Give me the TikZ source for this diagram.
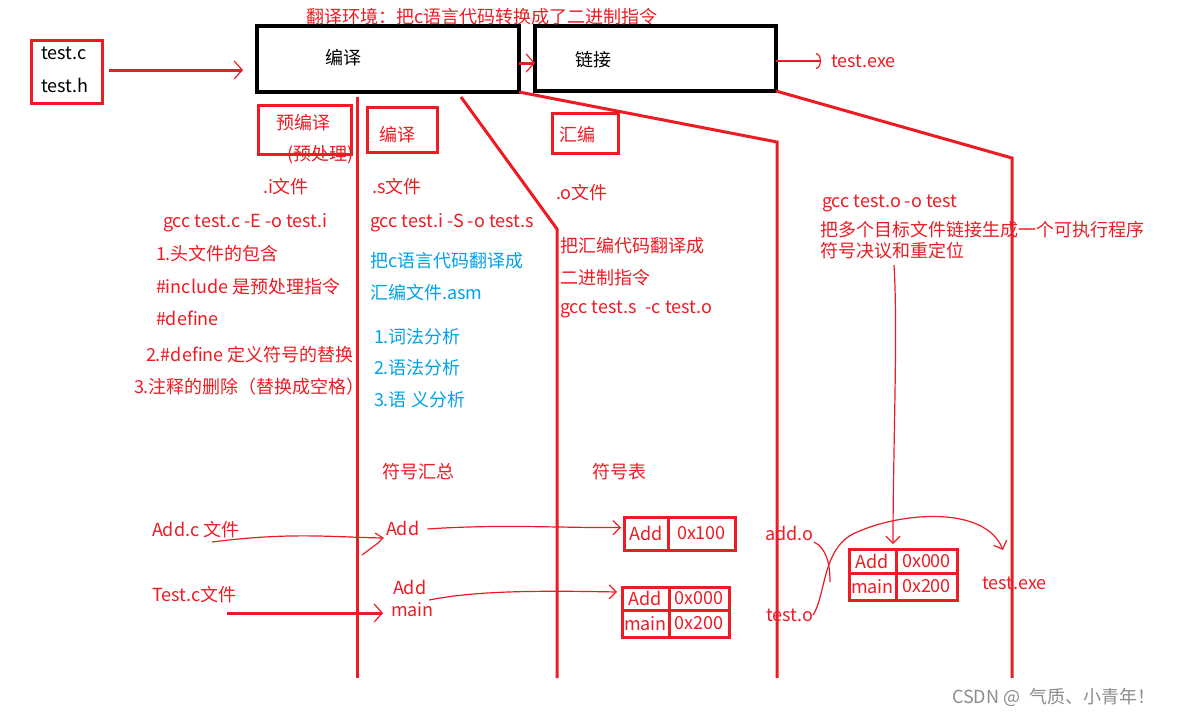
\documentclass[tikz,border=0pt]{standalone}
\usepackage{fontspec}
\setmainfont{Noto Sans CJK SC}
\usetikzlibrary{arrows.meta,calc}
\definecolor{pred}{HTML}{ED1C24}
\definecolor{pblue}{HTML}{00A2E8}
\definecolor{wm}{HTML}{8C8C8C}
\tikzset{
  lbl/.style={anchor=west,inner sep=0pt,outer sep=0pt,text=pred,font=\fontsize{18}{21}\selectfont},
  blbl/.style={lbl,text=pblue},
  klbl/.style={lbl,text=black},
  kbox/.style={draw=black,line width=3.5pt,inner sep=0pt,outer sep=0pt},
  rbox/.style={draw=pred,line width=3pt,inner sep=0pt,outer sep=0pt},
  cell/.style={draw=pred,line width=3pt,inner sep=0pt,outer sep=0pt,anchor=north west,text=pred,font=\fontsize{18}{21}\selectfont},
  stageline/.style={draw=pred,line width=3pt,line join=miter},
  thinline/.style={draw=pred,line width=1.2pt},
  thinarr/.style={thinline,-{Straight Barb[length=7pt,width=14pt]}},
  thickarr/.style={draw=pred,line width=3pt,-{Straight Barb[length=8pt,width=18pt,line width=1.2pt]}},
}
\begin{document}
\begin{tikzpicture}[x=1pt,y=-1pt]
\useasboundingbox[fill=white] (0,0) rectangle (1178,716);

% ---- top row
\node[rbox,minimum width=71pt,minimum height=63pt] (src) at (66.5,71.5) {};
\node[klbl] (tc) at (41,53) {test.c};
\node[klbl] (th) at (41,85) {test.h};
\node[kbox,minimum width=262pt,minimum height=66pt] (comp) at (388,59) {};
\node[klbl] (compt) at (325,58) {编译};
\node[kbox,minimum width=241pt,minimum height=65pt] (link) at (655.5,58.5) {};
\node[klbl] (linkt) at (575,60) {链接};
\node[lbl] (exe) at (831,61) {test.exe};
\node[lbl] (title) at (306,17) {翻译环境：把c语言代码转换成了二进制指令};

\draw[thickarr] ($(src.east)+(7,-1.5)$) -- ($(src.east -| comp.west)+(-14,-1.5)$);
\draw[thickarr] ($(comp.east)+(0,4)$) -- ($(link.west)+(0,4.5)$);
\draw[thinline,-{Arc Barb[length=5pt,width=16pt]}] ($(link.east)+(0,2.5)$) -- ($(exe.west)+(-10,0)$);

% ---- stage separators
\coordinate (s1a) at (357,97);  \coordinate (s1b) at (357,678);
\coordinate (s2a) at (461,97);  \coordinate (s2k) at (557,229); \coordinate (s2b) at (557,678);
\coordinate (s3k) at (777,142); \coordinate (s3b) at (777,678);
\coordinate (s4k) at (1012,158); \coordinate (s4b) at (1012,678);
\draw[stageline] (s1a) -- (s1b);
\draw[stageline] (s2a) -- (s2k) -- (s2b);
\draw[stageline] (comp.south east) -- (s3k) -- (s3b);
\draw[stageline] (link.south east) -- (s4k) -- (s4b);

% ---- stage boxes
\node[rbox,minimum width=93pt,minimum height=49pt] (pre) at (304.5,129.5) {};
\node[lbl] (pret) at (276,123) {预编译};
\node[lbl] (pret2) at (287,155) {(预处理)};
\node[rbox,minimum width=70pt,minimum height=45pt] (cmp2) at (402,129.5) {};
\node[lbl] (cmp2t) at (379,135) {编译};
\node[rbox,minimum width=66pt,minimum height=40pt] (asm) at (585,133) {};
\node[lbl] (asmt) at (559,135) {汇编};

% ---- column 1
\node[lbl] (ifile) at (263,187) {.i文件};
\node[lbl] (gcc1) at (163,223) {gcc test.c -E -o test.i};
\node[lbl] (c1a) at (156,254) {1.头文件的包含};
\node[lbl] (c1b) at (156,287) {\#include 是预处理指令};
\node[lbl] (c1c) at (156,318) {\#define};
\node[lbl] (c1d) at (146,355) {2.\#define 定义符号的替换};
\node[lbl] (c1e) at (134,387) {3.注释的删除（替换成空格）};

% ---- column 2
\node[lbl] (sfile) at (372,187) {.s文件};
\node[lbl] (gcc2) at (370,223) {gcc test.i -S -o test.s};
\node[blbl] (c2a) at (370,261) {把c语言代码翻译成};
\node[blbl] (c2b) at (370,293) {汇编文件.asm};
\node[blbl] (c2c) at (374,337) {1.词法分析};
\node[blbl] (c2d) at (374,368) {2.语法分析};
\node[blbl] (c2e) at (374,400) {3.语 义分析};

% ---- column 3
\node[lbl] (ofile) at (556,193) {.o文件};
\node[lbl] (c3a) at (560,246) {把汇编代码翻译成};
\node[lbl] (c3b) at (560,278) {二进制指令};
\node[lbl] (gcc3) at (560,309) {gcc test.s\hspace{5pt} -c test.o};

% ---- column 4
\node[lbl] (gcc4) at (822,203) {gcc test.o -o test};
\node[lbl] (c4a) at (820,230) {把多个目标文件链接生成一个可执行程序};
\node[lbl] (rule) at (820,251) {符号决议和重定位};

% ---- bottom
\node[lbl] (sumt) at (382,472) {符号汇总};
\node[lbl] (tabt) at (592,472) {符号表};
\node[lbl] (addc) at (152,530) {Add.c 文件};
\node[lbl] (sym1) at (386,528) {Add};
\node[lbl] (testc) at (152,595) {Test.c文件};
\node[lbl] (sym2) at (393,587) {Add};
\node[lbl] (sym3) at (391,610) {main};

\node[cell,minimum width=44pt,minimum height=33pt] (t1a) at (624,517) {Add};
\node[cell,minimum width=67pt,minimum height=33pt] (t1b) at (t1a.north east) {0x100};

\node[cell,minimum width=47pt,minimum height=23pt] (t2a) at (622,587) {Add};
\node[cell,minimum width=60pt,minimum height=23pt] (t2b) at (t2a.north east) {0x000};
\node[cell,minimum width=47pt,minimum height=27pt] (t2c) at (t2a.south west) {main};
\node[cell,minimum width=60pt,minimum height=27pt] (t2d) at (t2c.north east) {0x200};

\node[cell,minimum width=47pt,minimum height=24pt] (t3a) at (849,549) {Add};
\node[cell,minimum width=61pt,minimum height=24pt] (t3b) at (t3a.north east) {0x000};
\node[cell,minimum width=47pt,minimum height=27pt] (t3c) at (t3a.south west) {main};
\node[cell,minimum width=61pt,minimum height=27pt] (t3d) at (t3c.north east) {0x200};

\node[lbl] (addo) at (765,533) {add.o};
\node[lbl] (testo) at (766,615) {test.o};
\node[lbl] (exe2) at (982,583) {test.exe};

% connectors
\draw[thinline] ($(addc.west)+(60,12)$) .. controls (290,532) and (330,537) .. ($(sym1.west)+(-3,10)$);
\draw[thinline] ($(sym1.west)+(-11,5)$) -- ($(sym1.west)+(-3,10)$) -- ($(sym1.west)+(-8,15)$) -- ($(sym1.west)+(-24,27)$);
\draw[thickarr] ($(testc.west)+(75,18)$) -- ($(sym3.west)+(-8,3)$);
\draw[thinarr] ($(sym1.east)+(8,1)$) .. controls (500,524) and (560,528) .. ($(t1a.west)+(-3,-6)$);
\draw[thinarr] ($(sym2.east)+(3,13)$) .. controls (470,592) and (520,590) .. ($(t2a.west)+(-5,-6.5)$);

\coordinate (merge) at (830,582);
\draw[thinline] ($(addo.east)+(1,9)$) .. controls (825,548) and (830,560) .. (merge);
\draw[thinarr] (testo.east) .. controls (826,595) and (822,548) .. (855,533)
  .. controls (900,512) and (985,505) .. ($(exe2.west)+(21,-33)$);
\draw[thinarr] ($(rule.west)+(74,14)$) .. controls (898,330) and (893,450) .. ($(t3a.north east)+(-3,-5)$);

\node[anchor=west,inner sep=0pt,text=wm,font=\fontsize{18}{21}\selectfont] (wmk) at (952,697) {CSDN @\hspace{9pt}气质、小青年！};
\end{tikzpicture}
\end{document}
